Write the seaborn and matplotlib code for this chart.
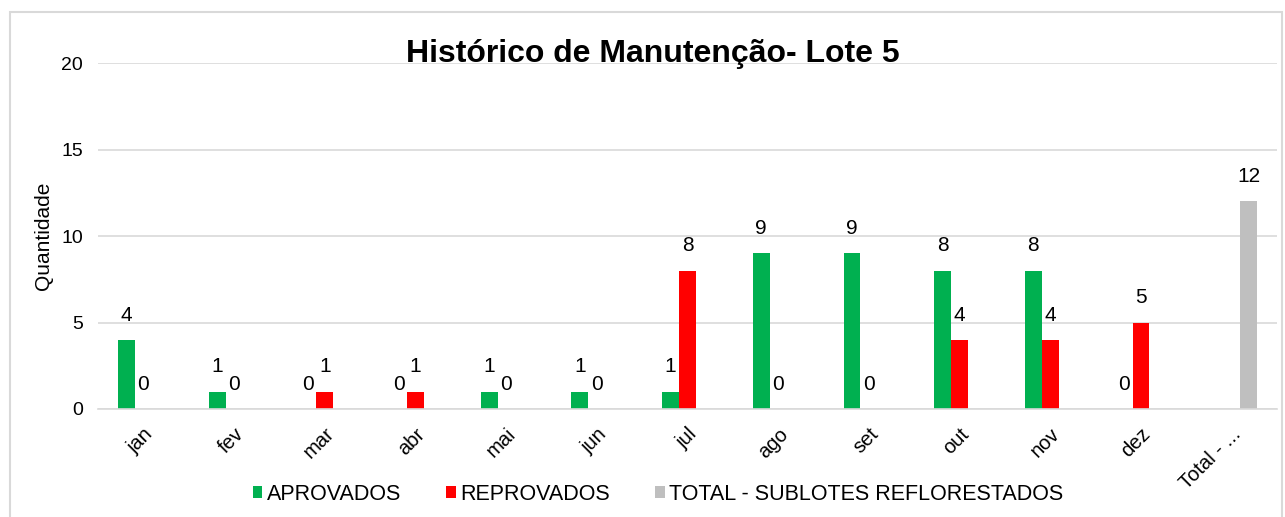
import pandas as pd
import seaborn as sns
import matplotlib.pyplot as plt
from matplotlib.patches import Rectangle

# values
meses = ['jan', 'fev', 'mar', 'abr', 'mai', 'jun', 'jul', 'ago', 'set', 'out', 'nov', 'dez']
aprovados = [4, 1, 0, 0, 1, 1, 1, 9, 9, 8, 8, 0]
reprovados = [0, 0, 1, 1, 0, 0, 8, 0, 0, 4, 4, 5]
total_label = 'Total - SUBLOTES REFLORESTADOS'
total_sublotes = [12]
series = ['APROVADOS', 'REPROVADOS', 'TOTAL - SUBLOTES REFLORESTADOS']
cores = ['#00B050', '#FF0000', '#BFBFBF']

rows = []
for m, v in zip(meses, aprovados):
    rows.append({'mes': m, 'serie': series[0], 'valor': v})
for m, v in zip(meses, reprovados):
    rows.append({'mes': m, 'serie': series[1], 'valor': v})
rows.append({'mes': total_label, 'serie': series[2], 'valor': total_sublotes[0]})
df = pd.DataFrame(rows)
ordem = meses + [total_label]

sns.set_theme(style='white')
plt.rcParams['font.family'] = ['Liberation Sans', 'DejaVu Sans']
plt.rcParams['text.color'] = 'black'
plt.rcParams['axes.labelcolor'] = 'black'
plt.rcParams['xtick.color'] = 'black'
plt.rcParams['ytick.color'] = 'black'

fig = plt.figure(figsize=(12.85, 5.17), dpi=100)
ax = fig.add_axes([0.0763, 0.2089, 0.9175, 0.6692])

sns.barplot(data=df, x='mes', y='valor', hue='serie', order=ordem, hue_order=series,
            palette=cores, width=0.56, dodge=True, ax=ax, saturation=1, legend=True,
            linewidth=0)

for c in ax.containers:
    ax.bar_label(c, fmt='%d', padding=11, fontsize=15, color='black')

ax.set_ylim(0, 20)
ax.set_yticks([0, 5, 10, 15, 20])
ax.yaxis.grid(True, color='#D9D9D9', linewidth=1.2)
ax.set_axisbelow(True)
for s in ['top', 'right', 'left']:
    ax.spines[s].set_visible(False)
ax.spines['bottom'].set_color('#D9D9D9')
ax.spines['bottom'].set_linewidth(1.2)
ax.tick_params(axis='y', labelsize=14, pad=11, length=0)
ax.tick_params(axis='x', labelsize=14.5, length=0, pad=11)
ax.set_xticks(range(len(ordem)))
ax.set_xticklabels(meses + ['Total - ...'], rotation=45, ha='right', rotation_mode='anchor')
ax.set_xlabel('')
ax.set_ylabel('Quantidade', fontsize=15, labelpad=6)

leg = ax.legend(loc='upper center', bbox_to_anchor=(0.475, -0.16), ncol=3, frameon=False,
                fontsize=15.5, handlelength=0.45, handleheight=0.45, handletextpad=0.2,
                columnspacing=2.1)

fig.text(0.508, 0.895, 'Histórico de Manutenção- Lote 5', fontsize=23, fontweight='bold',
         ha='center', va='center', color='black')

fig.patches.append(Rectangle((10 / 1285, -0.02), 1272 / 1285, 1 - 12 / 517 + 0.02,
                             transform=fig.transFigure, fill=False, edgecolor='#D9D9D9',
                             linewidth=1.5))

fig.savefig('out.png', dpi=100)
